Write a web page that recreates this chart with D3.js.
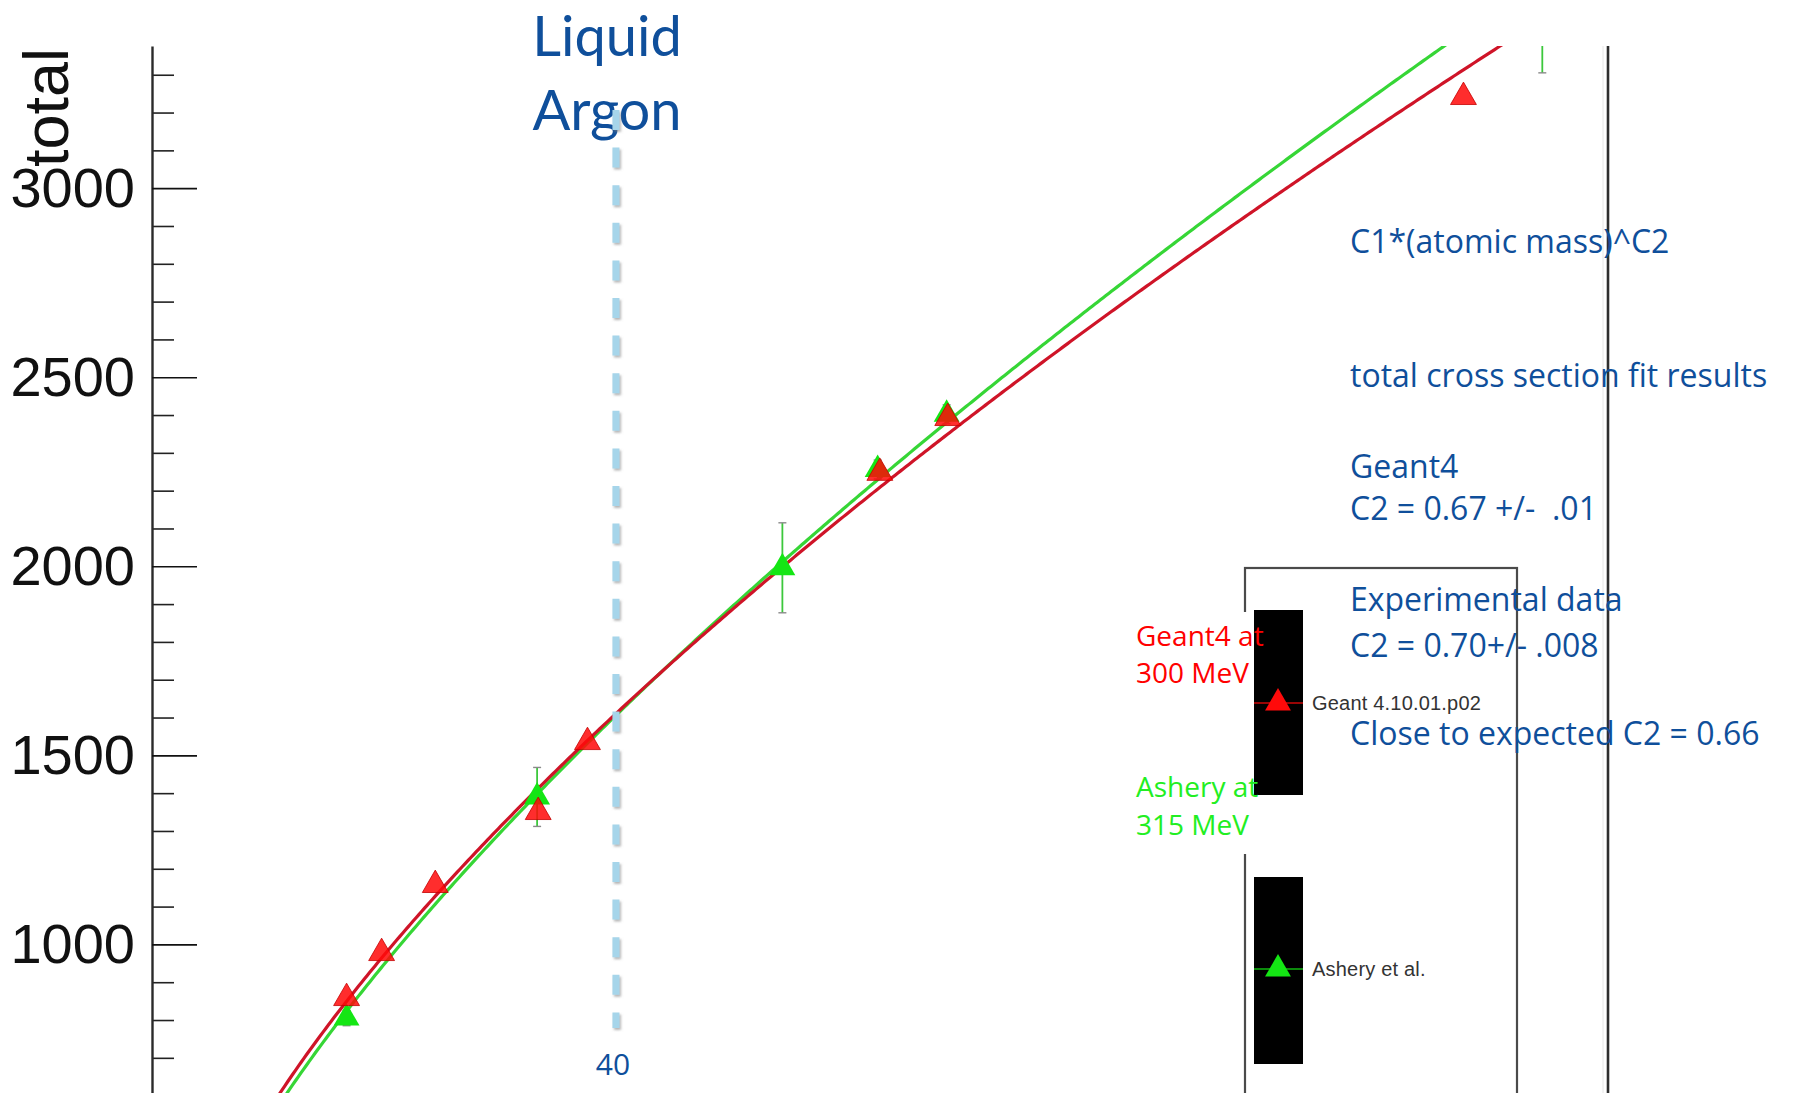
<!DOCTYPE html>
<html>
<head>
<meta charset="utf-8">
<script src="https://cdn.jsdelivr.net/npm/d3@7"></script>
<style>
  body { margin: 0; background: #fff; }
  svg { display: block; }
</style>
</head>
<body>
<svg id="chart" width="1794" height="1093"></svg>
<script>
// Pion-nucleus total cross section versus atomic mass

// Geant4 4.10.01.p02 at 300 MeV
const geantMass  = [15.4, 18.6, 23.5, 32.9, 37.4, 64.1, 70.3, 117.4];
const geantSigma = [858, 977, 1157, 1350, 1535, 2247, 2392, 3241];

// Ashery et al. at 315 MeV
const asheryMass  = [15.4, 32.8, 55.2, 63.9, 70.2, 124.6];
const asherySigma = [805, 1390, 1996, 2256, 2402, 3420];
const asheryError = [20, 78, 119, 25, 25, 115];

// power-law fits: sigma = C1 * A^C2
const fitC1 = [136.0, 121.4];
const fitC2 = [0.67, 0.70];

const yMajorTicks = [1000, 1500, 2000, 2500, 3000];
const xLimits = [-2.37, 130.6];
const yLimits = [607, 3376];
const argonMass = 40;

const notes = [
  "C1*(atomic mass)^C2",
  "total cross section fit results",
  "Geant4",
  "C2 = 0.67 +/-  .01",
  "Experimental data",
  "C2 = 0.70+/- .008",
  "Close to expected C2 = 0.66"
];
const legendLabels = ["Geant 4.10.01.p02", "Ashery et al."];

const RED = "#ff0a0a", RED_LINE = "#cf1428";
const GREEN = "#14e614", GREEN_LINE = "#36d636";
const BLUE_TEXT = "#0f4f9b";

const plot = { left: 152, right: 1608, top: 46, bottom: 1093 };

const svg = d3.select("#chart");
const defs = svg.append("defs");

defs.append("clipPath").attr("id", "plotClip")
  .append("rect")
  .attr("x", plot.left).attr("y", plot.top)
  .attr("width", plot.right - plot.left)
  .attr("height", plot.bottom - plot.top);

const shadow = defs.append("filter").attr("id", "dashShadow")
  .attr("filterUnits", "userSpaceOnUse")
  .attr("x", 0).attr("y", 0).attr("width", 1794).attr("height", 1093);
shadow.append("feDropShadow")
  .attr("dx", 1.5).attr("dy", 2).attr("stdDeviation", 1.2)
  .attr("flood-color", "#7a7a7a").attr("flood-opacity", 0.55);

const x = d3.scaleLinear().domain(xLimits).range([plot.left, plot.right]);
const y = d3.scaleLinear().domain(yLimits).range([plot.bottom, plot.top]);

// ---- left axis: major ticks with labels, minor ticks every 100
const minorTicks = d3.range(700, 3400, 100).filter(v => !yMajorTicks.includes(v));

const minorAxis = svg.append("g")
  .attr("transform", `translate(${plot.left},0)`)
  .call(d3.axisLeft(y).tickValues(minorTicks).tickSize(-22).tickSizeOuter(0).tickFormat(""));
minorAxis.select(".domain").remove();
minorAxis.selectAll(".tick line").attr("stroke", "#222").attr("stroke-width", 1.6);

const majorAxis = svg.append("g")
  .attr("transform", `translate(${plot.left},0)`)
  .call(d3.axisLeft(y).tickValues(yMajorTicks).tickSize(-45).tickSizeOuter(0)
    .tickPadding(17).tickFormat(d3.format("d")));
majorAxis.select(".domain").attr("stroke", "#2a2a2a").attr("stroke-width", 2.4);
majorAxis.selectAll(".tick line").attr("stroke", "#111").attr("stroke-width", 1.6);
majorAxis.selectAll(".tick text")
  .attr("fill", "#111")
  .style("font-family", "'Liberation Sans', Arial, sans-serif")
  .style("font-size", "56px");

svg.append("text")
  .attr("transform", `translate(68,167) rotate(-90)`)
  .attr("fill", "#111")
  .style("font-family", "'Liberation Sans', Arial, sans-serif")
  .style("font-size", "63px")
  .text("total");

// right frame edge
svg.append("line")
  .attr("x1", plot.right - 5).attr("x2", plot.right - 5)
  .attr("y1", plot.top).attr("y2", plot.bottom)
  .attr("stroke", "#e6e6e6").attr("stroke-width", 1);
svg.append("line")
  .attr("x1", plot.right).attr("x2", plot.right)
  .attr("y1", plot.top).attr("y2", plot.bottom)
  .attr("stroke", "#2e2e2e").attr("stroke-width", 2.6);

// ---- legend box
const legend = svg.append("g");
legend.append("rect")
  .attr("x", 1245).attr("y", 568).attr("width", 272).attr("height", 600)
  .attr("fill", "#fff").attr("stroke", "#4a4a4a").attr("stroke-width", 2.2);

const legendRows = [
  { label: legendLabels[0], color: RED, top: 610, height: 185, cy: 703 },
  { label: legendLabels[1], color: GREEN, top: 877, height: 187, cy: 969 }
];
const triangle = d3.symbol().type(d3.symbolTriangle).size(290);

legendRows.forEach(r => {
  legend.append("rect")
    .attr("x", 1254).attr("y", r.top).attr("width", 49).attr("height", r.height)
    .attr("fill", "#000");
  legend.append("line")
    .attr("x1", 1254).attr("x2", 1303).attr("y1", r.cy).attr("y2", r.cy)
    .attr("stroke", r.color).attr("stroke-width", 1.4).attr("opacity", 0.8);
  legend.append("path")
    .attr("d", triangle)
    .attr("transform", `translate(1278,${r.cy})`)
    .attr("fill", r.color);
  legend.append("text")
    .attr("x", 1312).attr("y", r.cy + 7)
    .attr("fill", "#333")
    .style("font-family", "'Liberation Sans', Arial, sans-serif")
    .style("font-size", "20px")
    .style("letter-spacing", "0.2px")
    .text(r.label);
});

// ---- fit curves
const fitGroup = svg.append("g").attr("clip-path", "url(#plotClip)");
const massSamples = d3.range(0.5, xLimits[1] + 0.5, 0.25);
const fitColors = [RED_LINE, GREEN_LINE];
[1, 0].forEach(i => {
  const line = d3.line()
    .x(a => x(a))
    .y(a => y(fitC1[i] * Math.pow(a, fitC2[i])));
  fitGroup.append("path")
    .attr("d", line(massSamples))
    .attr("fill", "none")
    .attr("stroke", fitColors[i])
    .attr("stroke-width", 3.2);
});

// ---- data points
const pts = svg.append("g").attr("clip-path", "url(#plotClip)");

const ashery = asheryMass.map((a, i) => ({ a, s: asherySigma[i], e: asheryError[i] }));
const geant = geantMass.map((a, i) => ({ a, s: geantSigma[i] }));

pts.selectAll(".err").data(ashery).join("line")
  .attr("x1", d => x(d.a)).attr("x2", d => x(d.a))
  .attr("y1", d => y(d.s - d.e)).attr("y2", d => y(d.s + d.e))
  .attr("stroke", "#3cc83c").attr("stroke-width", 1.8);
pts.selectAll(".capLo").data(ashery).join("line")
  .attr("x1", d => x(d.a) - 4).attr("x2", d => x(d.a) + 4)
  .attr("y1", d => y(d.s - d.e)).attr("y2", d => y(d.s - d.e))
  .attr("stroke", "#8a8a8a").attr("stroke-width", 1.4);
pts.selectAll(".capHi").data(ashery).join("line")
  .attr("x1", d => x(d.a) - 4).attr("x2", d => x(d.a) + 4)
  .attr("y1", d => y(d.s + d.e)).attr("y2", d => y(d.s + d.e))
  .attr("stroke", "#8a8a8a").attr("stroke-width", 1.4);

pts.selectAll(".ash").data(ashery).join("path")
  .attr("d", triangle)
  .attr("transform", d => `translate(${x(d.a)},${y(d.s)})`)
  .attr("fill", GREEN);

pts.selectAll(".g4").data(geant).join("path")
  .attr("d", triangle)
  .attr("transform", d => `translate(${x(d.a)},${y(d.s)})`)
  .attr("fill", RED).attr("fill-opacity", 0.86)
  .attr("stroke", "#c40000").attr("stroke-width", 0.8);

// ---- annotations
const notesFont = "'Open Sans', 'Noto Sans', sans-serif";

svg.append("rect")
  .attr("x", 1128).attr("y", 612).attr("width", 119).attr("height", 242)
  .attr("fill", "#fff");

const sideNotes = [
  { t: "Geant4 at", y: 646, c: "#ff0000" },
  { t: "300 MeV", y: 683, c: "#ff0000" },
  { t: "Ashery at", y: 797, c: "#22ee22" },
  { t: "315 MeV", y: 835, c: "#22ee22" }
];
svg.selectAll(".side").data(sideNotes).join("text")
  .attr("x", 1136).attr("y", d => d.y)
  .attr("fill", d => d.c)
  .style("font-family", notesFont)
  .style("font-size", "28px")
  .text(d => d.t);

const noteBaselines = [253, 387, 478, 520, 611, 657, 745];
svg.selectAll(".note").data(notes).join("text")
  .attr("x", 1350).attr("y", (d, i) => noteBaselines[i])
  .attr("fill", BLUE_TEXT)
  .style("font-family", notesFont)
  .style("font-size", "32px")
  .style("white-space", "pre")
  .text(d => d);

svg.selectAll(".argon").data(["Liquid", "Argon"]).join("text")
  .attr("x", 607).attr("y", (d, i) => 56 + i * 74)
  .attr("text-anchor", "middle")
  .attr("fill", BLUE_TEXT)
  .style("font-family", "Lato, 'Open Sans', sans-serif")
  .style("font-size", "56px")
  .text(d => d);

svg.append("line")
  .attr("x1", x(argonMass)).attr("x2", x(argonMass))
  .attr("y1", 110).attr("y2", 1028)
  .attr("stroke", "#a6d5ea")
  .attr("stroke-width", 7)
  .attr("stroke-dasharray", "20 17.6")
  .attr("filter", "url(#dashShadow)");

svg.append("text")
  .attr("x", x(argonMass) - 3).attr("y", 1075)
  .attr("text-anchor", "middle")
  .attr("fill", BLUE_TEXT)
  .style("font-family", notesFont)
  .style("font-size", "30px")
  .text(argonMass);
</script>
</body>
</html>
